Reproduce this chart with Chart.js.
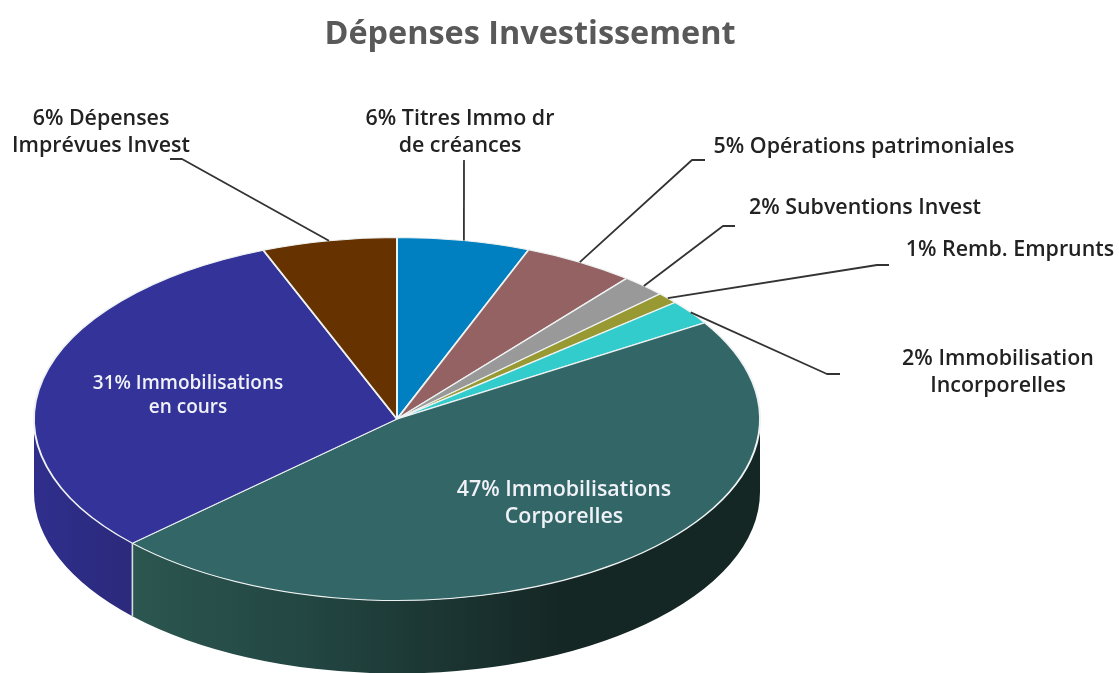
<!DOCTYPE html>
<html lang="fr"><head><meta charset="utf-8">
<style>html,body{margin:0;padding:0;background:#fff}canvas{display:block;filter:blur(0.55px)}</style>
<script src="https://cdn.jsdelivr.net/npm/chart.js@4"></script>
</head><body><canvas id="c" width="1119" height="673"></canvas>
<script>
const titleText = 'Dépenses Investissement';
const categories = ['Titres Immo dr de créances','Opérations patrimoniales','Subventions Invest','Remb. Emprunts','Immobilisation Incorporelles','Immobilisations Corporelles','Immobilisations en cours','Dépenses Imprévues Invest'];
const values = [5.9, 5, 2, 1, 2.2, 46.9, 31, 6];
const colors = ['#0080c0','#946262','#999999','#999933','#33cccc','#336666','#333399','#663300'];
const labelLines = [['Titres Immo dr','de créances'],['Opérations patrimoniales'],['Subventions Invest'],['Remb. Emprunts'],['Immobilisation','Incorporelles'],['Immobilisations','Corporelles'],['Immobilisations','en cours'],['Dépenses','Imprévues Invest']];
const wallStops = {5:[[132,'#2c5650'],[300,'#234743'],[560,'#152725'],[760,'#152725']],6:[[34,'#2f2e8c'],[132,'#2b2a7c']]};
const labelPos = [[460,119,27],[864,147,27],[865,208,27],[1010,250,27],[998,359,27],[564,490,27],[188,384,23.5],[101,119,27]];
const labelSize = [21.4,21.4,21.4,21.4,21.4,21.4,19,21.4];
const elbows = [[[464,160]],[[692,160],[705,160]],[[723,226],[735,226]],[[877,265],[889,265]],[[827,374],[840,374]],null,null,[[182,159],[170,159]]];
const CX=397, CY=419, SQ=0.5, DEPTH=73;

const pie3d = {
  id:'pie3d',
  beforeDatasetsDraw(chart){
    const ctx=chart.ctx, arcs=chart.getDatasetMeta(0).data;
    ctx.save();
    arcs.forEach((a,i)=>{
      const s=Math.max(a.startAngle,0), e=Math.min(a.endAngle,Math.PI);
      if(e<=s) return;
      const r=a.outerRadius, ry=r*SQ;
      const g=ctx.createLinearGradient(CX-r,0,CX+r,0);
      (wallStops[i]||[[CX-r,colors[i]],[CX+r,colors[i]]]).forEach(([x,c])=>g.addColorStop((x-CX+r)/(2*r),c));
      ctx.beginPath();
      ctx.ellipse(CX,CY,r,ry,0,s,e);
      ctx.ellipse(CX,CY+DEPTH,r,ry,0,e,s,true);
      ctx.closePath();
      ctx.fillStyle=g; ctx.fill();
    });
    arcs.forEach(a=>{
      const ang=a.endAngle, r=a.outerRadius;
      if(ang>0.02&&ang<Math.PI-0.02){
        const x=CX+r*Math.cos(ang), y=CY+r*SQ*Math.sin(ang);
        ctx.beginPath();ctx.moveTo(x,y);ctx.lineTo(x,y+DEPTH);
        ctx.strokeStyle='#d8dcdc';ctx.lineWidth=1.6;ctx.stroke();
      }
    });
    ctx.restore();
    const p=arcs[0];
    ctx.save();
    ctx.translate(CX,CY);ctx.scale(1,SQ);ctx.translate(-p.x,-p.y);
  },
  afterDatasetsDraw(chart){
    const ctx=chart.ctx, arcs=chart.getDatasetMeta(0).data;
    ctx.restore();
    ctx.save();
    ctx.strokeStyle='#333';ctx.lineWidth=1.8;ctx.lineJoin='round';
    arcs.forEach((a,i)=>{
      if(!elbows[i]) return;
      const m=(a.startAngle+a.endAngle)/2, r=a.outerRadius;
      ctx.beginPath();
      ctx.moveTo(CX+r*Math.cos(m),CY+r*SQ*Math.sin(m));
      elbows[i].forEach(([x,y])=>ctx.lineTo(x,y));
      ctx.stroke();
    });
    ctx.textAlign='center';ctx.textBaseline='middle';
    labelLines.forEach((ls,i)=>{
      const [x,y,lh]=labelPos[i];
      ctx.font='600 '+labelSize[i]+'px "Open Sans"';
      ctx.fillStyle=(i===5||i===6)?'#f0f2f8':'#222222';
      ls.forEach((t,k)=>ctx.fillText(k===0?Math.round(values[i])+'% '+t:t,x,y+k*lh));
    });
    ctx.restore();
  }
};

new Chart(document.getElementById('c'),{
  type:'pie',
  data:{labels:categories,datasets:[{data:values,backgroundColor:colors,borderColor:'#eef2f2',borderWidth:2,radius:363,clip:false}]},
  options:{
    responsive:false,animation:false,
    layout:{padding:{right:59}},
    plugins:{
      legend:{display:false},tooltip:{enabled:false},
      title:{display:true,text:titleText,color:'#595959',font:{family:'"Open Sans"',size:32.4,weight:'700'},padding:{top:15,bottom:20}}
    }
  },
  plugins:[pie3d]
});
</script></body></html>
